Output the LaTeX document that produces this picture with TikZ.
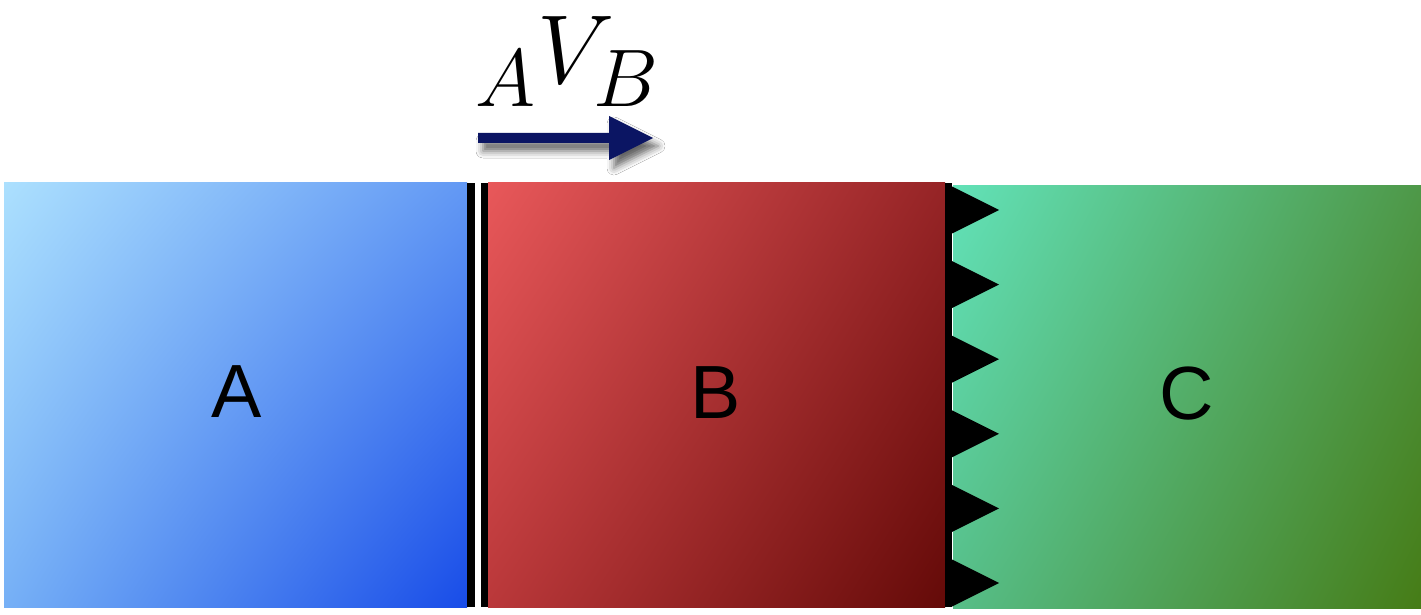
\documentclass[tikz,border=0pt]{standalone}
\usepackage{fontspec}
\newfontfamily\labfont{Liberation Sans}
\usetikzlibrary{calc,shadings,shadows.blur}
\definecolor{navy}{RGB}{11,21,99}
\definecolor{aUL}{RGB}{172,224,254}
\definecolor{aUR}{RGB}{98,152,244}
\definecolor{aLL}{RGB}{118,176,246}
\definecolor{aLR}{RGB}{24,76,232}
\definecolor{bUL}{RGB}{232,88,90}
\definecolor{bUR}{RGB}{150,36,38}
\definecolor{bLL}{RGB}{186,56,58}
\definecolor{bLR}{RGB}{100,10,8}
\definecolor{cUL}{RGB}{98,226,184}
\definecolor{cUR}{RGB}{78,152,72}
\definecolor{cLL}{RGB}{86,190,136}
\definecolor{cLR}{RGB}{70,124,22}
\tikzset{
  blockbox/.style={draw=none},
  barbox/.style={fill=black,draw=none},
  tooth/.style={fill=black,draw=none},
  blocklabel/.style={font=\labfont\fontsize{37.7}{40}\selectfont,inner sep=0pt},
}
\begin{document}
\begin{tikzpicture}[x=0.5pt,y=-0.5pt]
\useasboundingbox[fill=white] (0,0) rectangle (1421,615);
% block A
\shade[blockbox,upper left=aUL,upper right=aUR,lower left=aLL,lower right=aLR] (4,183) rectangle (467,607);
% double bar
\fill[barbox] (467,183) rectangle (475,607);
\fill[barbox] (481,183) rectangle (488,607);
% block B
\shade[blockbox,upper left=bUL,upper right=bUR,lower left=bLL,lower right=bLR] (488,183) rectangle (945,607);
% block C
\shade[blockbox,upper left=cUL,upper right=cUR,lower left=cLL,lower right=cLR] (953,186) rectangle (1421,608);
% toothed interface
\fill[barbox] (945,183) rectangle (952,607);
\foreach \t in {210,284.6,359.2,433.8,508.4,583}{
  \fill[tooth] (952,\t-23.5) -- (999,\t) -- (952,\t+23.5) -- cycle;
}
% labels
\node[blocklabel] (la) at (237,392) {A};
\node[blocklabel] (lb) at (716,393) {B};
\node[blocklabel] (lc) at (1187,394) {C};
% velocity label
\node[anchor=base,inner sep=0pt,font=\Huge,scale=1.97] (vab) at (568,84) {${}_A V_B$};
% arrow
\coordinate (arrS) at (478,138);
\coordinate (arrE) at (653,138);
\fill[navy,blur shadow={shadow xshift=2.5pt,shadow yshift=-4pt,shadow blur radius=3.5pt,shadow opacity=60}]
  ($(arrS)+(0,-5)$) -- ($(arrE)+(-44,-5)$) -- ($(arrE)+(-44,-22)$) -- (arrE)
  -- ($(arrE)+(-44,22)$) -- ($(arrE)+(-44,5)$) -- ($(arrS)+(0,5)$) -- cycle;
\end{tikzpicture}
\end{document}
